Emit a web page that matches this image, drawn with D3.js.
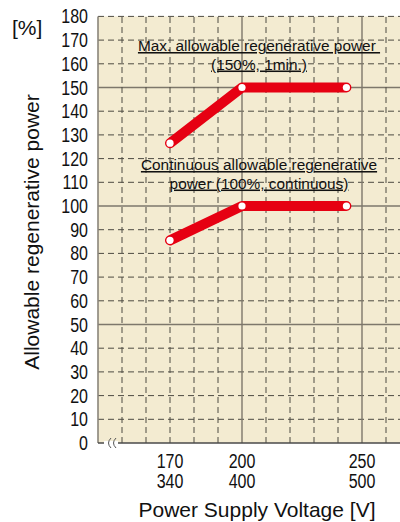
<!DOCTYPE html>
<html><head><meta charset="utf-8">
<script src="https://cdn.jsdelivr.net/npm/d3@7"></script>
<style>
html,body{margin:0;padding:0;background:#fff;}
svg{display:block;}
text{font-family:"Liberation Sans",Arial,sans-serif;fill:#111;}
</style></head>
<body>
<svg id="c" width="400" height="522"></svg>
<script>
// ---- data ----
const voltages = [170, 200, 243.5];          // V (200V class)
const maxPower = [126.5, 150, 150];          // % (150%, 1 min.)
const contPower = [85.5, 100, 100];          // % (100%, continuous)
const yTicks = [0,10,20,30,40,50,60,70,80,90,100,110,120,130,140,150,160,170,180];
const xTickValues = [170, 200, 250];
const xTickTop = ["170", "200", "250"];
const xTickBottom = ["340", "400", "500"];
const xGrid = [150,160,170,180,190,200,210,220,230,240,250,260];
const solidY = [50, 100, 150];
const solidX = [200, 250];
const maxLabel = ["Max. allowable regenerative power\u00a0", "(150%, 1min.)"];
const contLabel = ["Continuous allowable regenerative", "power (100%, continuous)"];

const svg = d3.select("#c");
const x = d3.scaleLinear().domain([140, 270]).range([98, 410]);
const y = d3.scaleLinear().domain([0, 180]).range([443, 16.4]);

const red = "#e60012";
const gridDark = "#4d4a42";
const gridSolid = "#7d776b";

// plot background
svg.append("rect").attr("x", x(140)).attr("y", y(180))
  .attr("width", x(270) - x(140)).attr("height", y(0) - y(180))
  .attr("fill", "#f3ebd1");

// horizontal grid
svg.append("g").selectAll("line").data(yTicks.filter(v => v > 0))
  .join("line")
  .attr("x1", x(140)).attr("x2", x(270))
  .attr("y1", d => y(d)).attr("y2", d => y(d))
  .attr("stroke", d => solidY.includes(d) ? gridSolid : gridDark)
  .attr("stroke-width", d => solidY.includes(d) ? 1.4 : 1)
  .attr("stroke-dasharray", d => solidY.includes(d) ? null : "6,4");

// vertical grid
svg.append("g").selectAll("line").data(xGrid)
  .join("line")
  .attr("x1", d => x(d)).attr("x2", d => x(d))
  .attr("y1", y(0)).attr("y2", y(180))
  .attr("stroke", d => solidX.includes(d) ? gridSolid : gridDark)
  .attr("stroke-width", d => solidX.includes(d) ? 1.4 : 1)
  .attr("stroke-dasharray", d => solidX.includes(d) ? null : "6,4");

// axes borders
svg.append("line").attr("x1", x(140)).attr("x2", x(140)).attr("y1", y(180)).attr("y2", y(0))
  .attr("stroke", "#8a857a").attr("stroke-width", 1.6);
svg.append("line").attr("x1", x(140)).attr("x2", x(270)).attr("y1", y(0)).attr("y2", y(0))
  .attr("stroke", "#4a4a4a").attr("stroke-width", 1.6);

// axis break symbol
const bx = 104, by = y(0);
svg.append("rect").attr("x", bx).attr("y", by - 2).attr("width", 14).attr("height", 4).attr("fill", "#fff");
[bx + 5, bx + 10].forEach(cx => {
  svg.append("path")
    .attr("d", `M${cx + 2},${by - 5} Q${cx - 3},${by} ${cx + 2},${by + 5}`)
    .attr("fill", "none").attr("stroke", "#555").attr("stroke-width", 1);
});

// condensed label helper
function narrow(g, px, py, anchor, txt) {
  g.append("text")
    .attr("transform", `translate(${px},${py}) scale(0.8,1)`)
    .attr("text-anchor", anchor).attr("font-size", 20).text(txt);
}

// y tick labels
const yg = svg.append("g");
yTicks.forEach(v => narrow(yg, 88, y(v) + 7, "end", v));

// x tick labels
const xg = svg.append("g");
xTickValues.forEach((v, i) => {
  narrow(xg, x(v), 468, "middle", xTickTop[i]);
  narrow(xg, x(v), 488, "middle", xTickBottom[i]);
});

// unit and titles
svg.append("text").attr("x", 12).attr("y", 35).attr("font-size", 21).text("[%]");
svg.append("text").attr("transform", "translate(39,232) rotate(-90)")
  .attr("text-anchor", "middle").attr("font-size", 21).text("Allowable regenerative power");
svg.append("text").attr("x", 257).attr("y", 517)
  .attr("text-anchor", "middle").attr("font-size", 21).text("Power Supply Voltage [V]");

// series lines
const line = d3.line().x(d => x(d[0])).y(d => y(d[1]));
[maxPower, contPower].forEach(vals => {
  const pts = voltages.map((v, i) => [v, vals[i]]);
  svg.append("path").datum(pts).attr("d", line)
    .attr("fill", "none").attr("stroke", red).attr("stroke-width", 10)
    .attr("stroke-linecap", "round").attr("stroke-linejoin", "round");
  svg.append("g").selectAll("circle").data(pts).join("circle")
    .attr("cx", d => x(d[0])).attr("cy", d => y(d[1])).attr("r", 3.6)
    .attr("fill", "#fff");
});

// annotations
function note(lines, y0) {
  lines.forEach((t, i) => {
    svg.append("text").attr("x", 259).attr("y", y0 + i * 18.5)
      .attr("text-anchor", "middle").attr("font-size", 15.4)
      .attr("text-decoration", "underline").text(t);
  });
}
note(maxLabel, 51);
note(contLabel, 170);
</script>
</body></html>
